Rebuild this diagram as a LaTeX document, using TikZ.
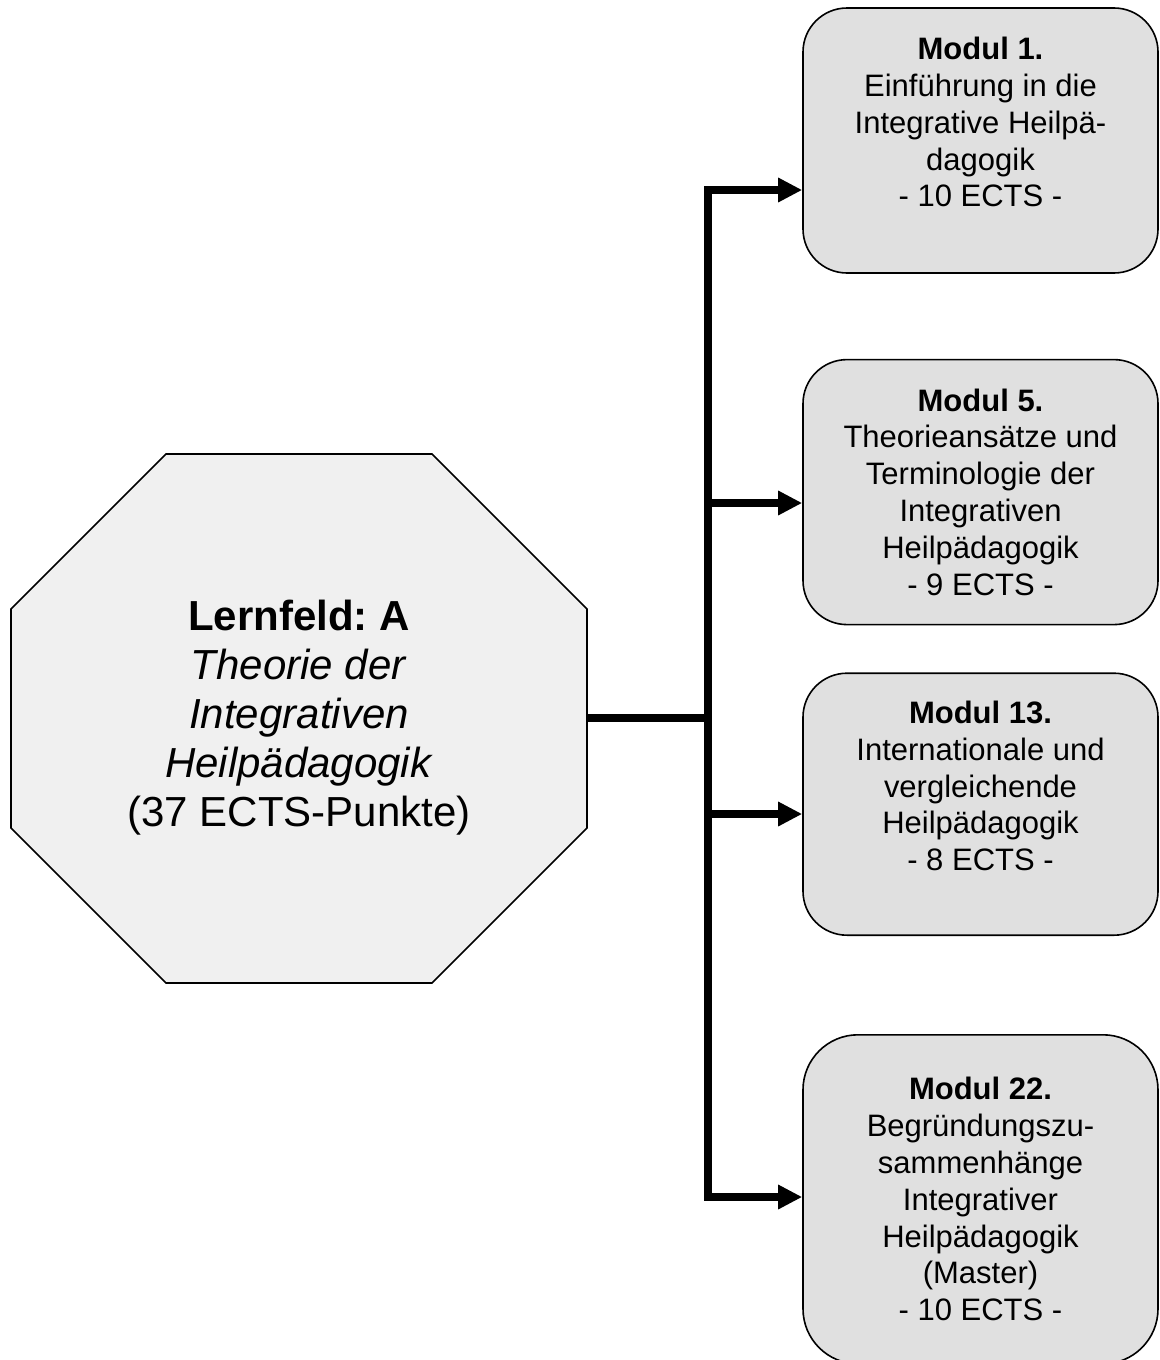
\documentclass[tikz,border=0pt]{standalone}
\usepackage{fontspec}
\setmainfont{Liberation Sans}
\frenchspacing
\usetikzlibrary{positioning,arrows.meta,calc}
\definecolor{octfill}{HTML}{F0F0F0}
\definecolor{boxfill}{HTML}{E0E0E0}
\tikzset{
  modbox/.style={draw,line width=0.8pt,fill=boxfill,rounded corners=22pt,
    minimum width=177.5pt,minimum height=132.5pt,align=center,inner sep=0pt,
    font=\fontsize{15.5pt}{18.4pt}\selectfont},
  bus/.style={line width=4pt},
  arr/.style={bus,-{Triangle[length=12pt,width=11.5pt]}}
}
\begin{document}
\begin{tikzpicture}[x=0.5pt,y=-0.5pt]
				\useasboundingbox (0,0) rectangle (1160,1360);
				% Lernfeld
				\draw[line width=0.8pt,fill=octfill] (166,454) -- (432,454) -- (587,609) -- (587,828)
					-- (432,983) -- (166,983) -- (11,828) -- (11,609) -- cycle;
				\node[align=center,font=\fontsize{21pt}{24.5pt}\selectfont] (lf) at (299,718)
					{\textbf{Lernfeld: A}\\ \textit{Theorie der}\\ \textit{Integrativen}\\ \textit{Heilpädagogik}\\ (37 ECTS-Punkte)};
				\coordinate (lfe) at (587,718);
				% Module
				\node[modbox] (m1) at (980.5,140.5)
					{\textbf{Modul 1.}\\ Einführung in die\\ Integrative Heilpä-\\ dagogik\\ - 10 ECTS -\\ \mbox{}};
				\node[modbox,below=42.5pt of m1] (m5)
					{\textbf{Modul 5.}\\ Theorieansätze und\\ Terminologie der\\ Integrativen\\ Heilpädagogik\\ - 9 ECTS -};
				\node[modbox,below=23.5pt of m5,minimum height=131pt] (m13)
					{\textbf{Modul 13.}\\ Internationale und\\ vergleichende\\ Heilpädagogik\\ - 8 ECTS -\\ \mbox{}};
				\node[modbox,below=49pt of m13,minimum height=164.5pt,rounded corners=27.5pt] (m22)
					{\textbf{Modul 22.}\\ Begründungszu-\\ sammenhänge\\ Integrativer\\ Heilpädagogik\\ (Master)\\ - 10 ECTS -};
				% Verbindungen
				\coordinate (a1) at (708,190);
				\coordinate (a5) at (708,503);
				\coordinate (a13) at (708,814);
				\coordinate (a22) at (708,1197);
				\draw[bus] (lfe) -- (lfe -| a1);
				\draw[bus,line cap=rect] (a1) -- (a22);
				\draw[arr] (a1) -- (a1 -| m1.west);
				\draw[arr] (a5) -- (a5 -| m5.west);
				\draw[arr] (a13) -- (a13 -| m13.west);
				\draw[arr] (a22) -- (a22 -| m22.west);
\end{tikzpicture}
\end{document}
